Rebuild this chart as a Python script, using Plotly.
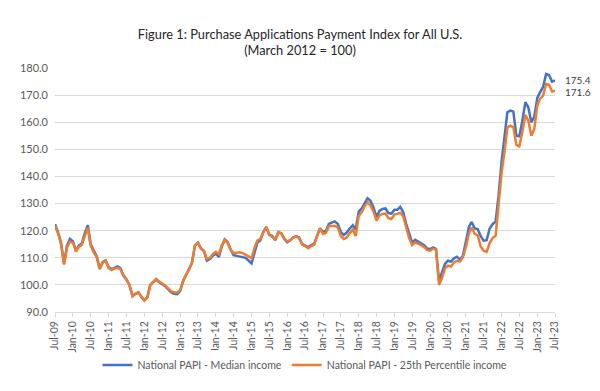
import pandas as pd
import plotly.graph_objects as go

# Monthly observations, Jul-2009 .. Jul-2023 (169 months)
months = pd.date_range("2009-07-01", "2023-07-01", freq="MS")

median_income = [
    122.4, 119.5, 115.5, 108.0, 114.5, 117.0, 116.0, 112.5, 114.5, 115.2, 119.0, 122.0,
    115.0, 112.5, 110.5, 106.0, 108.5, 109.0, 106.5, 105.8, 106.3, 106.8, 106.2, 103.5,
    102.0, 100.0, 96.0, 96.8, 97.3, 95.5, 94.3, 95.5, 100.0, 101.0, 102.0, 101.0,
    100.3, 99.5, 98.3, 97.2, 96.7, 96.6, 97.8, 101.5, 103.5, 105.5, 108.0, 114.5,
    115.6, 113.5, 112.5, 108.9, 109.5, 110.8, 111.5, 110.3, 114.0, 116.8, 115.8, 113.0,
    111.0, 110.7, 110.5, 110.4, 110.0, 109.0, 107.9, 112.0, 115.5, 116.5, 119.5, 121.4,
    118.5, 118.0, 116.5, 119.3, 119.0, 117.0, 115.7, 116.5, 117.5, 118.0, 117.5, 115.0,
    114.5, 113.9, 114.7, 115.1, 118.0, 120.9, 119.5, 120.0, 122.5, 123.0, 123.4, 122.5,
    119.6, 118.4, 119.3, 120.8, 122.0, 120.4, 127.0, 128.2, 130.3, 132.0, 131.0, 128.6,
    125.0, 127.3, 128.0, 128.2, 126.5, 126.3, 127.7, 127.7, 128.8, 126.8, 122.5, 118.5,
    115.6, 116.6, 116.0, 115.5, 114.6, 113.4, 113.2, 113.8, 113.2, 101.5, 104.5, 107.7,
    108.9, 108.6, 109.8, 110.4, 109.3, 110.8, 116.0, 121.5, 123.2, 120.8, 120.6, 118.0,
    116.3, 116.5, 120.8, 122.4, 123.3, 133.0, 145.5, 154.5, 163.7, 164.3, 163.9, 155.0,
    154.8, 160.5, 167.4, 165.5, 160.0, 162.0, 169.0, 171.2, 173.0, 177.8, 177.4, 175.0,
    175.4,
]

p25_income = [
    121.8, 119.0, 115.0, 107.5, 113.8, 116.0, 115.5, 112.3, 114.0, 114.7, 118.0, 121.0,
    114.5, 112.0, 110.2, 105.8, 108.3, 108.8, 106.2, 105.5, 106.0, 106.3, 105.8, 103.3,
    102.0, 100.0, 95.8, 96.8, 97.2, 95.5, 94.2, 95.5, 100.0, 101.2, 102.2, 101.2,
    100.5, 99.8, 98.7, 97.6, 97.3, 97.2, 98.0, 101.6, 103.7, 105.6, 108.2, 114.6,
    115.5, 113.4, 112.6, 109.5, 110.0, 111.3, 112.2, 111.3, 114.5, 116.6, 115.5, 113.0,
    111.7, 111.8, 112.0, 111.7, 111.2, 110.5, 109.8, 113.8, 116.3, 117.0, 119.5, 121.2,
    118.5, 117.8, 116.8, 119.5, 119.0, 117.2, 116.0, 116.5, 117.5, 117.8, 117.3, 115.0,
    114.2, 113.5, 114.3, 114.7, 118.0, 120.8, 118.8, 119.2, 121.6, 121.7, 121.8, 121.2,
    118.0, 116.9, 117.5, 119.0, 120.4, 118.0, 125.5, 126.8, 129.0, 130.5, 129.3, 127.0,
    123.7, 125.6, 126.2, 126.3, 124.6, 124.3, 126.0, 126.2, 126.6, 125.3, 121.0, 117.2,
    114.7, 115.7, 115.1, 114.7, 113.9, 112.8, 112.6, 113.4, 113.0, 100.0, 102.5, 106.1,
    107.1, 106.8, 108.3, 108.9, 108.6, 110.2, 114.0, 119.0, 121.2, 118.8, 118.3, 114.2,
    112.6, 112.2, 115.5, 117.3, 118.2, 129.5, 141.5, 149.5, 158.1, 158.7, 158.1, 151.6,
    151.1, 156.5, 162.7, 160.6, 155.0, 157.5, 166.3, 168.8, 169.8, 174.1, 173.8, 171.3,
    171.6,
]

series_names = ["National PAPI - Median income", "National PAPI - 25th Percentile income"]
series_colors = ["#4472C4", "#ED7D31"]
title_text = "Figure 1: Purchase Applications Payment Index for All U.S.<br>(March 2012 = 100)"

FONT = "Lato, 'Liberation Sans', sans-serif"

# The page body adds an 8px margin, so the figure is 8px smaller on each axis
W, H = 592, 383

fig = go.Figure()
for name, vals, col in zip(series_names, [median_income, p25_income], series_colors):
    fig.add_trace(go.Scatter(
        x=months, y=vals, mode="lines", name=name,
        line=dict(color=col, width=2.5),
    ))

# end-of-series data labels
for vals, ys in zip([median_income, p25_income], [0, -1]):
    fig.add_annotation(
        x=months[-1], y=vals[-1], text=f"{vals[-1]:.1f}",
        showarrow=False, xanchor="left", yanchor="middle", xshift=8, yshift=ys,
        font=dict(family=FONT, size=10, color="#404040"),
    )

fig.update_layout(
    width=W, height=H,
    margin=dict(l=45, r=45, t=60, b=79),
    paper_bgcolor="white", plot_bgcolor="white",
    font=dict(family=FONT, color="#595959"),
    title=dict(
        text=title_text, x=292 / W, xanchor="center", xref="container",
        y=1 - 30.5 / H, yanchor="middle", yref="container",
        font=dict(family=FONT, size=12.8, color="#262626"),
    ),
    showlegend=True,
    legend=dict(
        orientation="h", x=0.5, xanchor="center", y=-0.217, yanchor="middle",
        font=dict(family=FONT, size=10.5, color="#595959"),
        itemwidth=30, tracegroupgap=0,
    ),
)

fig.update_xaxes(
    type="date", range=[months[0], months[-1]],
    tick0="2009-07-01", dtick="M6", tickformat="%b-%y", tickangle=-90,
    ticks="outside", ticklen=4, tickcolor="#D9D9D9",
    showgrid=False, showline=True, linecolor="#D9D9D9", linewidth=1,
    tickfont=dict(family=FONT, size=10.5, color="#595959"),
    zeroline=False,
)
fig.update_yaxes(
    range=[90, 180], dtick=10, tickformat=".1f",
    showgrid=True, gridcolor="#D9D9D9", gridwidth=1,
    zeroline=False, showline=False, ticks="",
    tickfont=dict(family=FONT, size=11, color="#595959"),
    ticklabelstandoff=6,
)

fig.write_html("out.html")
